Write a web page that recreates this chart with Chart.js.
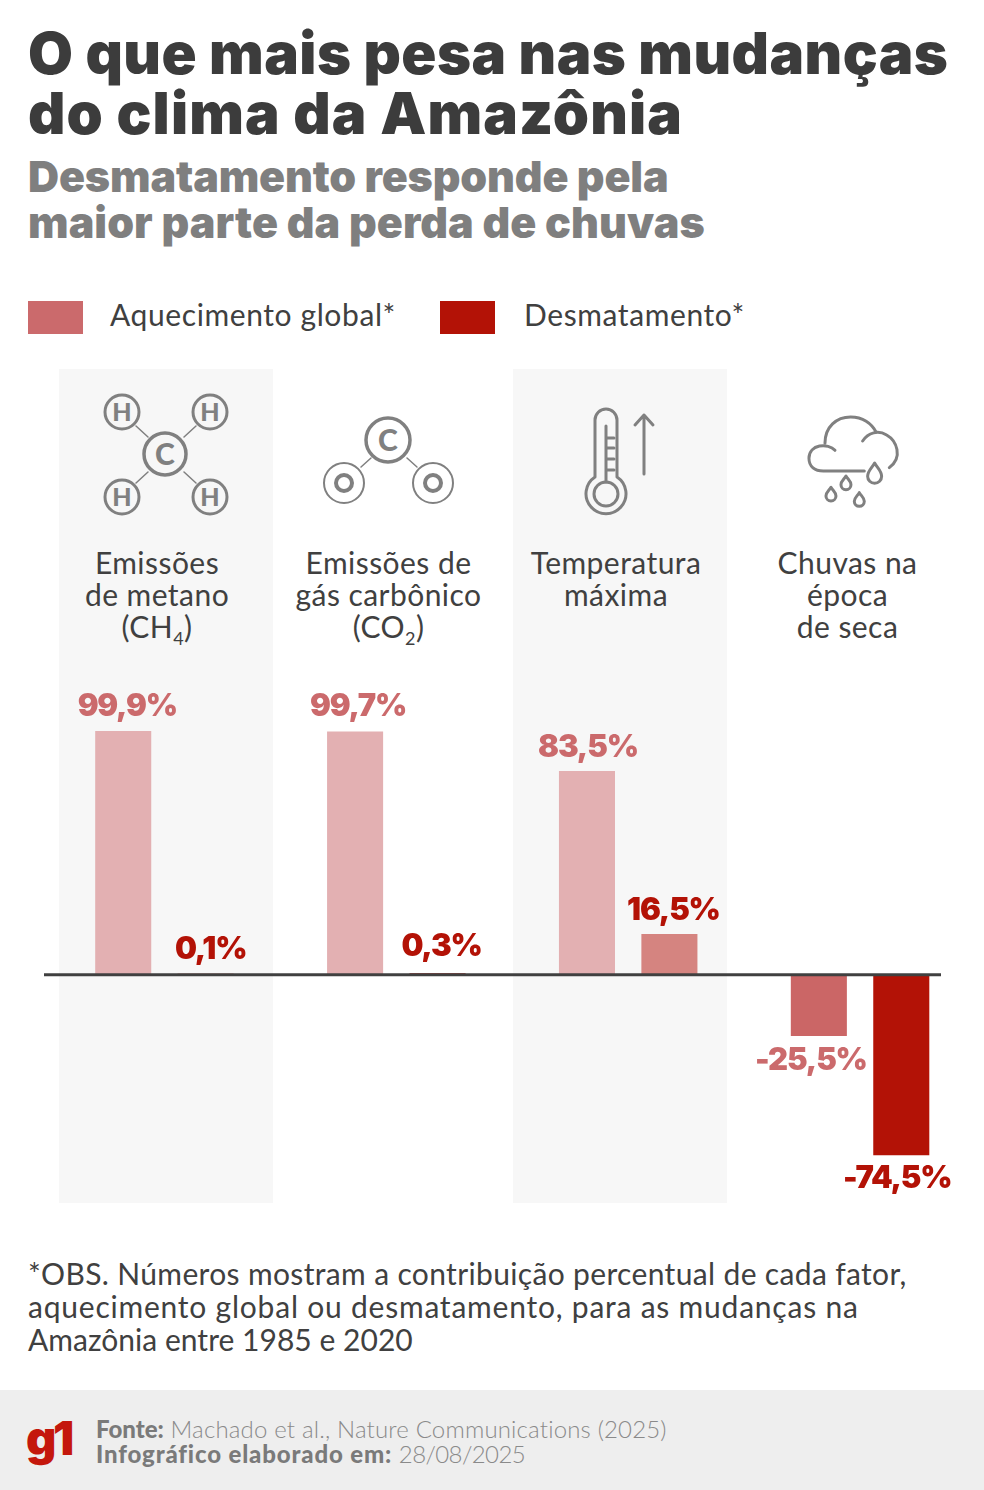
<!DOCTYPE html>
<html lang="pt-BR">
<head>
<meta charset="utf-8">
<title>O que mais pesa nas mudanças do clima da Amazônia</title>
<script src="https://cdn.jsdelivr.net/npm/chart.js@4"></script>
<style>
  html, body { margin: 0; padding: 0; background: #fff; }
  #page { position: relative; width: 984px; height: 1490px; overflow: hidden; font-family: Lato, sans-serif; color: #404040; }
  .t { position: absolute; white-space: nowrap; line-height: 1; }
  .title { font-family: Inter, sans-serif; font-weight: 900; font-size: 58px; color: #3c3c3c; left: 28px; }
  .sub { font-family: Inter, sans-serif; font-weight: 900; font-size: 43px; color: #7f7f7f; left: 28px; }
  .body { font-size: 30px; font-weight: 400; color: #404040; letter-spacing: .6px; }
  .cat { position: absolute; width: 232px; text-align: center; font-size: 30px; letter-spacing: .45px; line-height: 32px; top: 546px; color: #404040; }
  .cat sub { font-size: 18px; line-height: 0; }
  .band { position: absolute; top: 369px; height: 834px; width: 214px; background: #f7f7f7; }
  .swatch { position: absolute; top: 301px; width: 55px; height: 33px; }
  #footer { position: absolute; left: 0; top: 1390px; width: 984px; height: 100px; background: #eeeeee; }
  .foot { font-size: 24px; color: #8a8a8a; left: 96px; font-weight: 300; letter-spacing: .17px; }
  .foot b { font-weight: 900; color: #7a7a7a; letter-spacing: 0; }
  #logo { left: 26px; top: 1414px; font-family: Inter, sans-serif; font-weight: 900; font-size: 47px; color: #c4170c; letter-spacing: -3.5px; }
  svg { position: absolute; left: 0; top: 0; }
  canvas { position: absolute; left: 0; top: 0; pointer-events: none; }
</style>
</head>
<body>
<div id="page">
  <div class="band" style="left:59px"></div>
  <div class="band" style="left:513px"></div>

  <div class="t title" style="top:24px;letter-spacing:.45px">O que mais pesa nas mudanças</div>
  <div class="t title" style="top:84px;letter-spacing:1.1px">do clima da Amazônia</div>
  <div class="t sub" style="top:155px;letter-spacing:-.15px">Desmatamento responde pela</div>
  <div class="t sub" style="top:201px;letter-spacing:.07px">maior parte da perda de chuvas</div>

  <div class="swatch" id="sw0" style="left:28px"></div>
  <div class="t body" id="lg0" style="left:110px;top:299px"></div>
  <div class="swatch" id="sw1" style="left:440px"></div>
  <div class="t body" id="lg1" style="left:524px;top:299px"></div>

  <svg width="984" height="700" viewBox="0 0 984 700" fill="none" stroke="#808080" stroke-width="3" stroke-linecap="round" stroke-linejoin="round">
    <!-- metano -->
    <circle cx="165" cy="454" r="21" stroke-width="3.5"/>
    <circle cx="122" cy="412" r="17"/><circle cx="210" cy="412" r="17"/>
    <circle cx="122" cy="497" r="17"/><circle cx="210" cy="497" r="17"/>
    <path d="M136 426l12 11M196 426l-12 11M136 483l12-11M196 483l-12-11" stroke-width="1.5"/>
    <g font-family="Lato, sans-serif" font-weight="900" text-anchor="middle" fill="#808080" stroke="none">
      <text x="165" y="465" font-size="30">C</text>
      <text x="122" y="421" font-size="25">H</text><text x="210" y="421" font-size="25">H</text>
      <text x="122" y="506" font-size="25">H</text><text x="210" y="506" font-size="25">H</text>
      <text x="388" y="451" font-size="30">C</text>
    </g>
    <!-- gas carbonico -->
    <circle cx="388" cy="440" r="22" stroke-width="3.5"/>
    <circle cx="344" cy="483" r="20" stroke-width="2"/><circle cx="433" cy="483" r="20" stroke-width="2"/>
    <circle cx="344" cy="483" r="8" stroke-width="4"/><circle cx="433" cy="483" r="8" stroke-width="4"/>
    <path d="M361 467l10-9M417 467l-10-9" stroke-width="1.5"/>
    <!-- termometro -->
    <path d="M595 477V420a11 11 0 0 1 22 0V477A20 20 0 1 1 595 477"/>
    <circle cx="606" cy="494" r="12"/>
    <path d="M606 426V482M606 438h8M606 448h8M606 459h8M606 470h8M644 474V415M635 425l9-10 9 10"/>
    <!-- chuva -->
    <g transform="translate(510 370) scale(0.3333)" stroke-width="9">
      <path d="M975 241C955 218 897 222 897 265C897 290 915 303 940 303H1063"/>
      <path d="M945 220C945 170 980 141 1022 141C1058 141 1085 160 1098 186"/>
      <path d="M1058 213C1075 187 1105 180 1130 195C1160 212 1180 262 1138 293"/>
      <path d="M1094 279C1085 295 1073 303 1073 319A21 21 0 0 0 1115 319C1115 303 1103 295 1094 279Z"/>
      <path d="M1008 318C1002 328 993 333 993 344A15 15 0 0 0 1023 344C1023 333 1014 328 1008 318Z"/>
      <path d="M963 352C957 362 948 367 948 378A15 15 0 0 0 978 378C978 367 969 362 963 352Z"/>
      <path d="M1048 368C1042 378 1033 383 1033 394A15 15 0 0 0 1063 394C1063 383 1054 378 1048 368Z"/>
    </g>
  </svg>

  <div id="cats"></div>

  <div class="t body" style="left:28px;top:1258px;letter-spacing:.35px">*OBS. Números mostram a contribuição percentual de cada fator,</div>
  <div class="t body" style="left:28px;top:1291px;letter-spacing:.78px">aquecimento global ou desmatamento, para as mudanças na</div>
  <div class="t body" style="left:28px;top:1324px;letter-spacing:.03px">Amazônia entre 1985 e 2020</div>

  <div id="footer"></div>
  <div class="t" id="logo">g1</div>
  <div class="t foot" style="top:1417px"><b>Fonte:</b> Machado et al., Nature Communications (2025)</div>
  <div class="t foot" style="top:1442px"><b style="letter-spacing:.85px">Infográfico elaborado em:</b> <span style="letter-spacing:-.6px">28/08/2025</span></div>

  <canvas id="chart" width="984" height="1490"></canvas>
</div>

<script>
// valores
const categories = ['Emissões de metano (CH4)', 'Emissões de gás carbônico (CO2)', 'Temperatura máxima', 'Chuvas na época de seca'];
const categoryLines = [
    ['Emissões', 'de metano', '(CH<sub>4</sub>)'],
    ['Emissões de', 'gás carbônico', '(CO<sub>2</sub>)'],
    ['Temperatura', 'máxima'],
    ['Chuvas na', 'época', 'de seca']
];
const seriesNames = ['Aquecimento global*', 'Desmatamento*'];
const aquecimento = [99.9, 99.7, 83.5, -25.5];
const desmatamento = [0.1, 0.3, 16.5, -74.5];

// estilos
const legendColors = ['#cb6a6c', '#b31206'];
const aquecimentoColors = ['#e3b0b2', '#e3b0b2', '#e3b0b2', '#cb6666'];
const desmatamentoColors = ['#b31206', '#b31206', '#d58480', '#b31206'];
const labelColors = ['#cb6a6c', '#b31206'];
const labelShiftX = [[4, 3, 1, -8], [5, 4, 4, -4]];
const labelShiftY = [[0, -1, 1, 0], [0, -3, 1, -2]];
const catCenters = [157, 388.5, 616, 847.5];

legendColors.forEach(function (c, i) {
    document.getElementById('sw' + i).style.background = c;
    document.getElementById('lg' + i).textContent = seriesNames[i];
});

document.getElementById('cats').innerHTML = categoryLines.map(function (lines, i) {
    return '<div class="cat" style="left:' + (catCenters[i] - 116) + 'px">' + lines.join('<br>') + '</div>';
}).join('');

function formatPct(v) {
    return v.toFixed(1).replace('.', ',') + '%';
}

const zeroLine = {
    id: 'zeroLine',
    afterDatasetsDraw: function (chart) {
        const c = chart.ctx;
        const y = chart.scales.y.getPixelForValue(0) + 0.7;
        c.save();
        c.strokeStyle = '#404040';
        c.lineWidth = 3;
        c.beginPath();
        c.moveTo(44, y);
        c.lineTo(941, y);
        c.stroke();
        c.restore();
    }
};

const barLabels = {
    id: 'barLabels',
    afterDraw: function (chart) {
        const c = chart.ctx;
        c.save();
        c.font = '900 31px Inter, sans-serif';
        c.letterSpacing = '-1.2px';
        c.textAlign = 'center';
        c.textBaseline = 'middle';
        chart.data.datasets.forEach(function (ds, di) {
            c.fillStyle = labelColors[di];
            chart.getDatasetMeta(di).data.forEach(function (bar, i) {
                const v = ds.data[i];
                const y = (v >= 0 ? bar.y - 24 : bar.y + 25) + labelShiftY[di][i];
                c.fillText(formatPct(v), bar.x + labelShiftX[di][i], y);
            });
        });
        c.restore();
    }
};

new Chart(document.getElementById('chart'), {
    type: 'bar',
    data: {
        labels: categories,
        datasets: [
            { label: seriesNames[0], data: aquecimento, backgroundColor: aquecimentoColors, borderWidth: 0 },
            { label: seriesNames[1], data: desmatamento, backgroundColor: desmatamentoColors, borderWidth: 0 }
        ]
    },
    options: {
        responsive: false,
        animation: false,
        layout: { padding: { left: 48.5, right: 8, top: 706.5, bottom: 297.1 } },
        plugins: { legend: { display: false }, tooltip: { enabled: false } },
        datasets: { bar: { categoryPercentage: 0.711, barPercentage: 0.68 } },
        scales: {
            x: { display: false },
            y: { display: false, min: -90, max: 110 }
        }
    },
    plugins: [zeroLine, barLabels]
});
</script>
</body>
</html>
